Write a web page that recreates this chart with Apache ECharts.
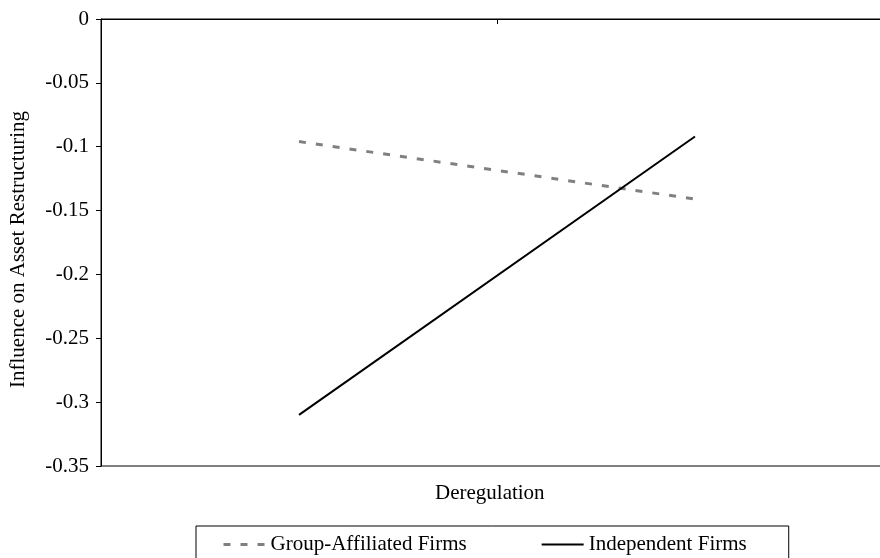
<!DOCTYPE html>
<html>
<head>
<meta charset="utf-8">
<script src="https://cdn.jsdelivr.net/npm/echarts@6/dist/echarts.min.js"></script>
<style>
html,body{margin:0;padding:0;background:#fff;overflow:hidden;width:880px;height:558px;}
#chart{width:900px;height:558px;}
</style>
</head>
<body>
<div id="chart"></div>
<script>
const categories = ['Low', 'High'];
const groupAffiliated = [-0.096, -0.141];
const independent = [-0.310, -0.092];
const yMin = -0.35, yMax = 0, yInterval = 0.05;
const seriesNames = ['Group-Affiliated Firms', 'Independent Firms'];
const xTitle = 'Deregulation';
const yTitle = 'Influence on Asset Restructuring';

const FONT = '"Liberation Serif", "Times New Roman", serif';
const chart = echarts.init(document.getElementById('chart'), null, {renderer: 'canvas'});
chart.setOption({
  animation: false,
  backgroundColor: '#fff',
  textStyle: {fontFamily: FONT, color: '#000'},
  grid: {left: 101, top: 19, height: 447, width: 792, show: true, borderColor: '#000', borderWidth: 1, backgroundColor: 'transparent'},
  xAxis: {
    type: 'category',
    data: categories,
    boundaryGap: true,
    axisLine: {onZero: true, lineStyle: {color: '#000', width: 1}},
    axisTick: {show: true, length: 5, lineStyle: {color: '#000'}},
    axisLabel: {show: false},
    splitLine: {show: false}
  },
  yAxis: {
    type: 'value',
    min: yMin, max: yMax, interval: yInterval,
    name: yTitle,
    nameLocation: 'middle',
    nameGap: 72,
    nameTextStyle: {fontFamily: FONT, fontSize: 21, color: '#000', padding: [0, 14, 0, 0]},
    axisLine: {show: true, lineStyle: {color: '#000', width: 1}},
    axisTick: {show: true, length: 5, lineStyle: {color: '#000'}},
    axisLabel: {fontFamily: FONT, fontSize: 21, color: '#000', margin: 12},
    splitLine: {show: false}
  },
  graphic: [{
    type: 'text', left: 491 - 56, top: 483,
    style: {text: xTitle, font: '21px ' + FONT, fill: '#000'}
  }],
  legend: {
    left: 196, top: 526,
    orient: 'horizontal',
    borderColor: '#000', borderWidth: 1,
    padding: [8, 42, 10, 26],
    itemWidth: 42, itemHeight: 14, itemGap: 74,
    itemStyle: {opacity: 0, borderWidth: 0},
    textStyle: {fontFamily: FONT, fontSize: 21, color: '#000'},
    data: [
      {name: seriesNames[0], lineStyle: {color: '#808080', width: 3, type: [7, 10]}},
      {name: seriesNames[1], lineStyle: {color: '#000', width: 2, type: 'solid'}}
    ]
  },
  series: [
    {
      name: seriesNames[0], type: 'line', data: groupAffiliated,
      symbol: 'none', showSymbol: false,
      lineStyle: {color: '#808080', width: 3, type: [7, 10]},
      itemStyle: {color: '#808080'}
    },
    {
      name: seriesNames[1], type: 'line', data: independent,
      symbol: 'none', showSymbol: false,
      lineStyle: {color: '#000', width: 2, type: 'solid'},
      itemStyle: {color: '#000'}
    }
  ]
});
</script>
</body>
</html>
